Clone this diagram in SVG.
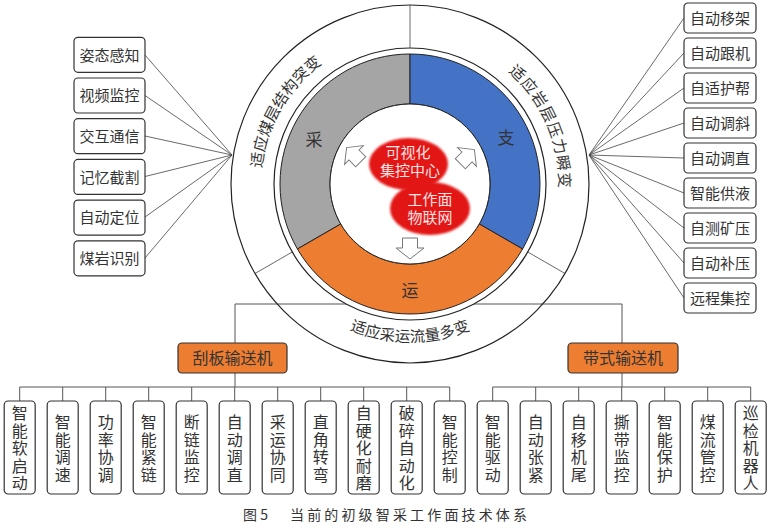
<svg xmlns="http://www.w3.org/2000/svg" width="771" height="529" viewBox="0 0 771 529">
<style>
text{font-family:"Noto Sans CJK SC","Liberation Sans",sans-serif;fill:#333}
.box{fill:#fff;stroke:#333;stroke-width:1.2}
.pbox{fill:#ED7D31;stroke:#333;stroke-width:1.2}
.ln{stroke:#444;stroke-width:0.8;fill:none}
.tr{stroke:#555;stroke-width:1;fill:none}
.lbl{font-size:15px;text-anchor:middle}
.vt{font-size:16px;text-anchor:middle;writing-mode:vertical-rl;letter-spacing:1.5px}
.ring{fill:none;stroke:#222;stroke-width:1.2}
.arc{font-size:15.5px}
.arw{fill:#fff;stroke:#777;stroke-width:1}
.ctr{font-size:15px;text-anchor:middle;fill:#FFE3E3}
</style>
<defs>
<filter id="soft" x="-20%" y="-20%" width="140%" height="140%"><feGaussianBlur stdDeviation="1.3"/></filter>
<polygon id="arrow" points="-7.5,-10 7.5,-10 7.5,0 14,0 0,11 -14,0 -7.5,0"/>
<path id="tpL" d="M270.0,235.0 A149,149 0 0 1 384.1,37.3"/>
<path id="tpR" d="M452.3,41.1 A149,149 0 0 1 543.3,250.5"/>
<path id="tpB" d="M289.0,285.6 A158,158 0 0 0 531.0,285.6"/>
</defs>

<g id="connectors">
<path class="ln" d="M145,55 L232,155 M145,95.5 L232,155 M145,136 L232,155 M145,176.5 L232,155 M145,217 L232,155 M145,258 L232,155"/>
<path class="ln" d="M589,155 L684,18 M589,155 L684,53 M589,155 L684,88 M589,155 L684,123 M589,155 L684,158 M589,155 L684,193 M589,155 L684,228 M589,155 L684,263 M589,155 L684,298"/>
<path class="tr" d="M235,343 V304 H622 V343"/>
<path class="tr" d="M235,373 V387 M19.7,387 H449.7 M19.7,387 V401 M62.7,387 V401 M105.7,387 V401 M148.7,387 V401 M191.7,387 V401 M234.7,387 V401 M277.7,387 V401 M320.7,387 V401 M363.7,387 V401 M406.7,387 V401 M449.7,387 V401"/>
<path class="tr" d="M622,373 V387 M492.7,387 H750.7 M492.7,387 V401 M535.7,387 V401 M578.7,387 V401 M621.7,387 V401 M664.7,387 V401 M707.7,387 V401 M750.7,387 V401"/>
</g>

<g id="wheel">
<circle class="ring" cx="410" cy="184" r="179"/>
<circle cx="410" cy="184" r="136" fill="#fff" stroke="#222" stroke-width="1.2"/>
<path class="ln" d="M410,48 V5 M292.2,252 L255,273.5 M527.8,252 L565,273.5" stroke="#222" stroke-width="1.1"/>
<text class="arc"><textPath href="#tpL" startOffset="50%" text-anchor="middle">适应煤层结构突变</textPath></text>
<text class="arc" letter-spacing="1"><textPath href="#tpR" startOffset="50%" text-anchor="middle">适应岩层压力瞬变</textPath></text>
<text class="arc"><textPath href="#tpB" startOffset="50%" text-anchor="middle">适应采运流量多变</textPath></text>
</g>

<g id="node-cai">
<path d="M410,54 A130,130 0 0 0 297.42,249 L340.72,224 A80,80 0 0 1 410,104 Z" fill="#A5A5A5" stroke="#222" stroke-width="1"/>
<text x="314" y="146" font-size="17" text-anchor="middle" fill="#222">采</text>
</g>
<g id="node-zhi">
<path d="M410,54 A130,130 0 0 1 522.58,249 L479.28,224 A80,80 0 0 0 410,104 Z" fill="#4472C4" stroke="#222" stroke-width="1"/>
<text x="506" y="144" font-size="17" text-anchor="middle" fill="#1b2a55">支</text>
</g>
<g id="node-yun">
<path d="M297.42,249 A130,130 0 0 0 522.58,249 L479.28,224 A80,80 0 0 1 340.72,224 Z" fill="#ED7D31" stroke="#222" stroke-width="1"/>
<text x="410" y="297" font-size="17" text-anchor="middle" fill="#3a1a05">运</text>
</g>
<g id="center">
<circle cx="410" cy="184" r="80" fill="#fff" stroke="#222" stroke-width="1"/>
<use href="#arrow" class="arw" transform="translate(354,155) rotate(135) scale(0.95)"/>
<use href="#arrow" class="arw" transform="translate(467,157) rotate(-135) scale(0.95)"/>
<use href="#arrow" class="arw" transform="translate(410,248)"/>
</g>
<g id="node-jikong">
<ellipse cx="408.5" cy="164" rx="39.5" ry="26" fill="#E31818" filter="url(#soft)"/>
<text class="ctr" x="408" y="158">可视化</text>
<text class="ctr" x="410" y="176">集控中心</text>
</g>
<g id="node-wulian">
<ellipse cx="430" cy="208.5" rx="40" ry="26.5" fill="#E31818" filter="url(#soft)"/>
<text class="ctr" x="430" y="205">工作面</text>
<text class="ctr" x="430" y="223">物联网</text>
</g>

<g id="left-nodes">
<g id="n-l1"><rect class="box" x="74" y="37.3" width="71" height="35" rx="4"/><text class="lbl" x="109.5" y="60.5">姿态感知</text></g>
<g id="n-l2"><rect class="box" x="74" y="78" width="71" height="35" rx="4"/><text class="lbl" x="109.5" y="101.2">视频监控</text></g>
<g id="n-l3"><rect class="box" x="74" y="118.7" width="71" height="35" rx="4"/><text class="lbl" x="109.5" y="141.9">交互通信</text></g>
<g id="n-l4"><rect class="box" x="74" y="159.4" width="71" height="35" rx="4"/><text class="lbl" x="109.5" y="182.6">记忆截割</text></g>
<g id="n-l5"><rect class="box" x="74" y="200.1" width="71" height="35" rx="4"/><text class="lbl" x="109.5" y="223.3">自动定位</text></g>
<g id="n-l6"><rect class="box" x="74" y="240.8" width="71" height="35" rx="4"/><text class="lbl" x="109.5" y="264">煤岩识别</text></g>
</g>

<g id="right-nodes">
<g id="n-r1"><rect class="box" x="684" y="3" width="72" height="30" rx="4"/><text class="lbl" x="720" y="23.7">自动移架</text></g>
<g id="n-r2"><rect class="box" x="684" y="38" width="72" height="30" rx="4"/><text class="lbl" x="720" y="58.7">自动跟机</text></g>
<g id="n-r3"><rect class="box" x="684" y="73" width="72" height="30" rx="4"/><text class="lbl" x="720" y="93.7">自适护帮</text></g>
<g id="n-r4"><rect class="box" x="684" y="108" width="72" height="30" rx="4"/><text class="lbl" x="720" y="128.7">自动调斜</text></g>
<g id="n-r5"><rect class="box" x="684" y="143" width="72" height="30" rx="4"/><text class="lbl" x="720" y="163.7">自动调直</text></g>
<g id="n-r6"><rect class="box" x="684" y="178" width="72" height="30" rx="4"/><text class="lbl" x="720" y="198.7">智能供液</text></g>
<g id="n-r7"><rect class="box" x="684" y="213" width="72" height="30" rx="4"/><text class="lbl" x="720" y="233.7">自测矿压</text></g>
<g id="n-r8"><rect class="box" x="684" y="248" width="72" height="30" rx="4"/><text class="lbl" x="720" y="268.7">自动补压</text></g>
<g id="n-r9"><rect class="box" x="684" y="283" width="72" height="30" rx="4"/><text class="lbl" x="720" y="303.7">远程集控</text></g>
</g>

<g id="n-guaban"><rect class="pbox" x="178" y="343" width="109" height="30" rx="4"/><text x="232.5" y="364" font-size="16" text-anchor="middle" fill="#2a1505">刮板输送机</text></g>
<g id="n-daishi"><rect class="pbox" x="568" y="343" width="110" height="30" rx="4"/><text x="623" y="364" font-size="16" text-anchor="middle" fill="#2a1505">带式输送机</text></g>

<g id="bottom-nodes">
<g id="n-b1"><rect class="box" x="4.2" y="401" width="31" height="93" rx="4"/><text class="vt" x="19.7" y="449">智能软启动</text></g>
<g id="n-b2"><rect class="box" x="47.2" y="401" width="31" height="93" rx="4"/><text class="vt" x="62.7" y="449">智能调速</text></g>
<g id="n-b3"><rect class="box" x="90.2" y="401" width="31" height="93" rx="4"/><text class="vt" x="105.7" y="449">功率协调</text></g>
<g id="n-b4"><rect class="box" x="133.2" y="401" width="31" height="93" rx="4"/><text class="vt" x="148.7" y="449">智能紧链</text></g>
<g id="n-b5"><rect class="box" x="176.2" y="401" width="31" height="93" rx="4"/><text class="vt" x="191.7" y="449">断链监控</text></g>
<g id="n-b6"><rect class="box" x="219.2" y="401" width="31" height="93" rx="4"/><text class="vt" x="234.7" y="449">自动调直</text></g>
<g id="n-b7"><rect class="box" x="262.2" y="401" width="31" height="93" rx="4"/><text class="vt" x="277.7" y="449">采运协同</text></g>
<g id="n-b8"><rect class="box" x="305.2" y="401" width="31" height="93" rx="4"/><text class="vt" x="320.7" y="449">直角转弯</text></g>
<g id="n-b9"><rect class="box" x="348.2" y="401" width="31" height="93" rx="4"/><text class="vt" x="363.7" y="449">自硬化耐磨</text></g>
<g id="n-b10"><rect class="box" x="391.2" y="401" width="31" height="93" rx="4"/><text class="vt" x="406.7" y="449">破碎自动化</text></g>
<g id="n-b11"><rect class="box" x="434.2" y="401" width="31" height="93" rx="4"/><text class="vt" x="449.7" y="449">智能控制</text></g>
<g id="n-b12"><rect class="box" x="477.2" y="401" width="31" height="93" rx="4"/><text class="vt" x="492.7" y="449">智能驱动</text></g>
<g id="n-b13"><rect class="box" x="520.2" y="401" width="31" height="93" rx="4"/><text class="vt" x="535.7" y="449">自动张紧</text></g>
<g id="n-b14"><rect class="box" x="563.2" y="401" width="31" height="93" rx="4"/><text class="vt" x="578.7" y="449">自移机尾</text></g>
<g id="n-b15"><rect class="box" x="606.2" y="401" width="31" height="93" rx="4"/><text class="vt" x="621.7" y="449">撕带监控</text></g>
<g id="n-b16"><rect class="box" x="649.2" y="401" width="31" height="93" rx="4"/><text class="vt" x="664.7" y="449">智能保护</text></g>
<g id="n-b17"><rect class="box" x="692.2" y="401" width="31" height="93" rx="4"/><text class="vt" x="707.7" y="449">煤流管控</text></g>
<g id="n-b18"><rect class="box" x="735.2" y="401" width="31" height="93" rx="4"/><text class="vt" x="750.7" y="449">巡检机器人</text></g>
</g>

<g id="caption">
<text x="243" y="520" font-size="14" font-family="'Liberation Serif','Noto Sans CJK SC',serif">图 5</text>
<text x="290" y="520" font-size="14" textLength="237" lengthAdjust="spacing">当前的初级智采工作面技术体系</text>
</g>
</svg>
